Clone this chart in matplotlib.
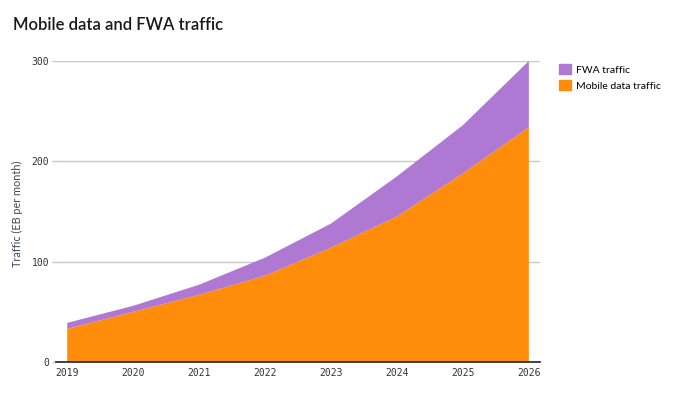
import matplotlib.pyplot as plt
from matplotlib.patches import Patch

# values (EB per month)
years = [2019, 2020, 2021, 2022, 2023, 2024, 2025, 2026]
mobile = [33, 50, 67, 86, 114, 145, 188, 234]
total = [39, 56, 77, 104, 138, 185, 236, 300]
fwa = [t - m for t, m in zip(total, mobile)]

orange = "#FF8C0A"
purple = "#AF78D2"


def draw():
	fig = plt.figure(figsize=(6.8, 3.96), dpi=100)
	ax = fig.add_axes([0.0824, 0.0859, 0.7118, 0.7601])

	ax.stackplot(years, mobile, fwa, colors=[orange, purple], linewidth=0)

	ax.set_xlim(2018.83, 2026.17)
	ax.set_ylim(0, 300)
	ax.set_xticks(years)
	ax.set_yticks([0, 100, 200, 300])
	ax.yaxis.grid(True, color="#c8c8c8", linewidth=1)
	ax.set_axisbelow(True)
	for side in ["top", "right", "left"]:
		ax.spines[side].set_visible(False)
	ax.spines["bottom"].set_color("#222222")
	ax.spines["bottom"].set_linewidth(1.2)
	ax.tick_params(axis="x", length=0, pad=4)
	ax.tick_params(axis="y", length=3, width=1, color="#c8c8c8", pad=2)
	for lab in ax.get_xticklabels() + ax.get_yticklabels():
		lab.set_family("DejaVu Sans Mono")
		lab.set_fontsize(7)
		lab.set_color("#333333")

	fig.text(0.026, 0.46, "Traffic (EB per month)", rotation=90, va="center",
		ha="center", fontsize=7.8, color="#3c4a5c", family="Lato")

	fig.text(0.019, 0.925, "Mobile data and FWA traffic", fontsize=12,
		fontweight="semibold", color="#1a1a1a", family="Lato", va="baseline")

	handles = [Patch(color=purple, label="FWA traffic"),
		Patch(color=orange, label="Mobile data traffic")]
	fig.legend(handles=handles, loc="upper left", bbox_to_anchor=(0.816, 0.848),
		frameon=False, handlelength=1.1, handleheight=1.1,
		handletextpad=0.5, labelspacing=0.5, borderaxespad=0,
		prop={"family": "Lato", "size": 7.5})

	fig.savefig("out.png", dpi=100)


def main():
	draw()


if __name__ == '__main__':
	main()
